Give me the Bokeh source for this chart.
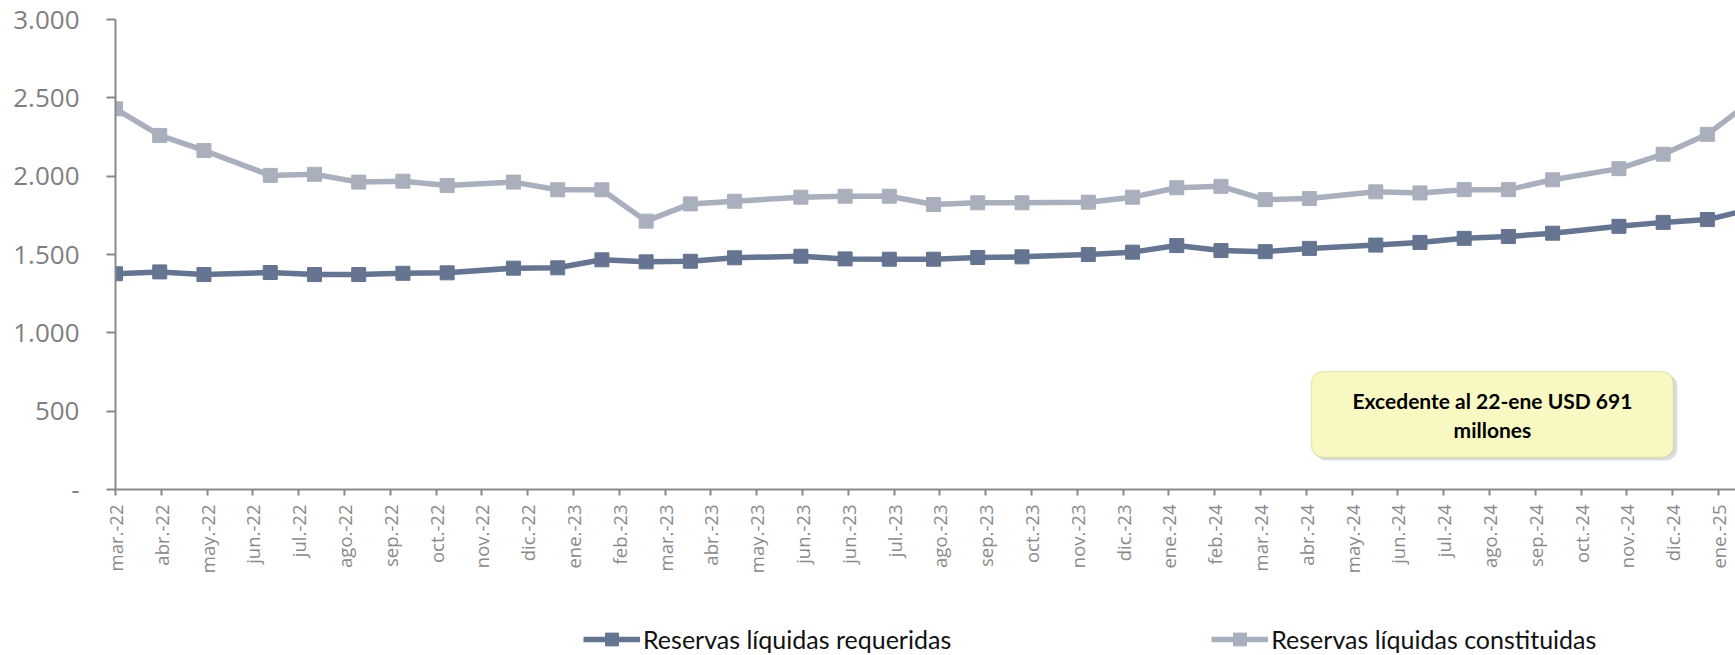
import math
import pandas as pd
from bokeh.plotting import figure
from bokeh.layouts import column
from bokeh.models import Range1d, FixedTicker, Legend, LegendItem, BoxAnnotation, Label
from bokeh.embed import file_html
from bokeh.resources import INLINE

# ---------------- data ----------------
axis_origin = "2022-03-23"      # first tick of the date axis
tick_step_days = 29             # axis major unit (days)
x_tick_labels = ["mar.-22", "abr.-22", "may.-22", "jun.-22", "jul.-22", "ago.-22",
                 "sep.-22", "oct.-22", "nov.-22", "dic.-22", "ene.-23", "feb.-23",
                 "mar.-23", "abr.-23", "may.-23", "jun.-23", "jun.-23", "jul.-23",
                 "ago.-23", "sep.-23", "oct.-23", "nov.-23", "dic.-23", "ene.-24",
                 "feb.-24", "mar.-24", "abr.-24", "may.-24", "jun.-24", "jul.-24",
                 "ago.-24", "sep.-24", "oct.-24", "nov.-24", "dic.-24", "ene.-25"]

dates = ["2022-03-23", "2022-04-20", "2022-05-18", "2022-06-29", "2022-07-27",
         "2022-08-24", "2022-09-21", "2022-10-19", "2022-11-30", "2022-12-28",
         "2023-01-25", "2023-02-22", "2023-03-22", "2023-04-19", "2023-05-31",
         "2023-06-28", "2023-07-26", "2023-08-23", "2023-09-20", "2023-10-18",
         "2023-11-29", "2023-12-27", "2024-01-24", "2024-02-21", "2024-03-20",
         "2024-04-17", "2024-05-29", "2024-06-26", "2024-07-24", "2024-08-21",
         "2024-09-18", "2024-10-30", "2024-11-27", "2024-12-25", "2025-01-22"]

requeridas = [1377, 1389, 1372, 1385, 1372, 1372, 1380, 1383, 1413, 1415,
              1466, 1453, 1457, 1479, 1489, 1472, 1470, 1470, 1481, 1485,
              1500, 1515, 1557, 1525, 1518, 1539, 1560, 1577, 1603, 1615,
              1636, 1680, 1705, 1723, 1790]

constituidas = [2430, 2260, 2164, 2005, 2012, 1962, 1968, 1940, 1962, 1913,
                1913, 1713, 1823, 1840, 1866, 1872, 1872, 1819, 1830, 1830,
                1834, 1866, 1926, 1935, 1850, 1857, 1900, 1893, 1914, 1914,
                1977, 2048, 2140, 2267, 2481]

y_ticks = [0, 500, 1000, 1500, 2000, 2500, 3000]
y_tick_labels = ["-", "500", "1.000", "1.500", "2.000", "2.500", "3.000"]

series_names = ["Reservas líquidas requeridas", "Reservas líquidas constituidas"]
annotation_lines = ["Excedente al 22-ene USD 691", "millones"]

# ---------------- derived positions ----------------
origin = pd.Timestamp(axis_origin)
x = [(pd.Timestamp(d) - origin).days for d in dates]
x_ticks = [i * tick_step_days for i in range(len(x_tick_labels))]

DARK = "#647491"
LIGHT = "#a9afbc"
AXIS = "#898989"

W = 1735
p = figure(width=W, height=595, title=None,
           x_range=Range1d(0, 1025.8), y_range=Range1d(0, 3000),
           output_backend="svg", toolbar_location=None,
           min_border_left=115, min_border_right=0,
           min_border_top=19, min_border_bottom=106)
p.background_fill_color = "white"
p.border_fill_color = "white"
p.outline_line_color = None
p.xgrid.visible = False
p.ygrid.visible = False

# axes
p.xaxis.ticker = FixedTicker(ticks=x_ticks)
p.xaxis.major_label_overrides = dict(zip(x_ticks, x_tick_labels))
p.xaxis.major_label_orientation = math.pi / 2
p.xaxis.major_label_text_font = "Open Sans"
p.xaxis.major_label_text_font_size = "18.5px"
p.xaxis.major_label_text_color = "#8a8a8a"
p.xaxis.major_tick_out = 6
p.xaxis.major_tick_in = 0
p.xaxis.major_label_standoff = 9

p.yaxis.ticker = FixedTicker(ticks=y_ticks)
p.yaxis.major_label_overrides = dict(zip(y_ticks, y_tick_labels))
p.yaxis.major_label_text_font = "Open Sans"
p.yaxis.major_label_text_font_size = "26px"
p.yaxis.major_label_text_color = "#7f7f7f"
p.yaxis.major_tick_out = 9
p.yaxis.major_tick_in = 0
p.yaxis.major_label_standoff = 27

for ax in (p.xaxis, p.yaxis):
    ax.axis_line_color = AXIS
    ax.axis_line_width = 2
    ax.major_tick_line_color = AXIS
    ax.major_tick_line_width = 2
    ax.minor_tick_line_color = None

# series
p.line(x, constituidas, line_width=5.5, color=LIGHT, line_join="round")
p.scatter(x, constituidas, marker="square", size=14, color=LIGHT)
p.line(x, requeridas, line_width=5.5, color=DARK, line_join="round")
p.scatter(x, requeridas, marker="square", size=14, color=DARK)

# annotation box
shadow = BoxAnnotation(left=759.5, right=989, bottom=185, top=734,
                       fill_color="#9a9a9a", fill_alpha=0.35, line_color=None,
                       border_radius=12)
box = BoxAnnotation(left=757.3, right=986.5, bottom=204, top=753,
                    fill_color="#f8f9c2", fill_alpha=1.0,
                    line_color="#bcbd62", line_width=1.5, border_radius=12)
p.add_layout(shadow)
p.add_layout(box)
p.add_layout(Label(x=871.9, y=568, text=annotation_lines[0], text_align="center",
                   text_baseline="middle", text_font="Lato", text_font_style="bold",
                   text_font_size="21px", text_color="#000000"))
p.add_layout(Label(x=871.9, y=383, text=annotation_lines[1], text_align="center",
                   text_baseline="middle", text_font="Lato", text_font_style="bold",
                   text_font_size="21px", text_color="#000000"))

# ---------------- legend strip ----------------
lg = figure(width=W, height=60, title=None,
            x_range=Range1d(0, 1), y_range=Range1d(0, 1),
            output_backend="svg", toolbar_location=None,
            x_axis_location=None, y_axis_location=None,
            min_border_left=0, min_border_right=0,
            min_border_top=0, min_border_bottom=0)
lg.outline_line_color = None
lg.xgrid.visible = False
lg.ygrid.visible = False
nan = float("nan")
k1 = lg.line([nan], [nan], line_width=5.5, color=DARK)
m1 = lg.scatter([nan], [nan], marker="square", size=14, color=DARK)
k2 = lg.line([nan], [nan], line_width=5.5, color=LIGHT)
m2 = lg.scatter([nan], [nan], marker="square", size=14, color=LIGHT)

legend = Legend(items=[LegendItem(label=series_names[0], renderers=[k1, m1]),
                       LegendItem(label=series_names[1], renderers=[k2, m2])],
                location=(468, 0), orientation="horizontal",
                padding=0, margin=0, spacing=260,
                border_line_color=None, background_fill_alpha=0,
                glyph_width=57, glyph_height=32, label_standoff=3,
                label_text_font="Lato", label_text_font_size="25px",
                label_text_color="#111111")
lg.add_layout(legend)

layout = column(p, lg, spacing=0)
open("out.html", "w").write(file_html(layout, INLINE))
